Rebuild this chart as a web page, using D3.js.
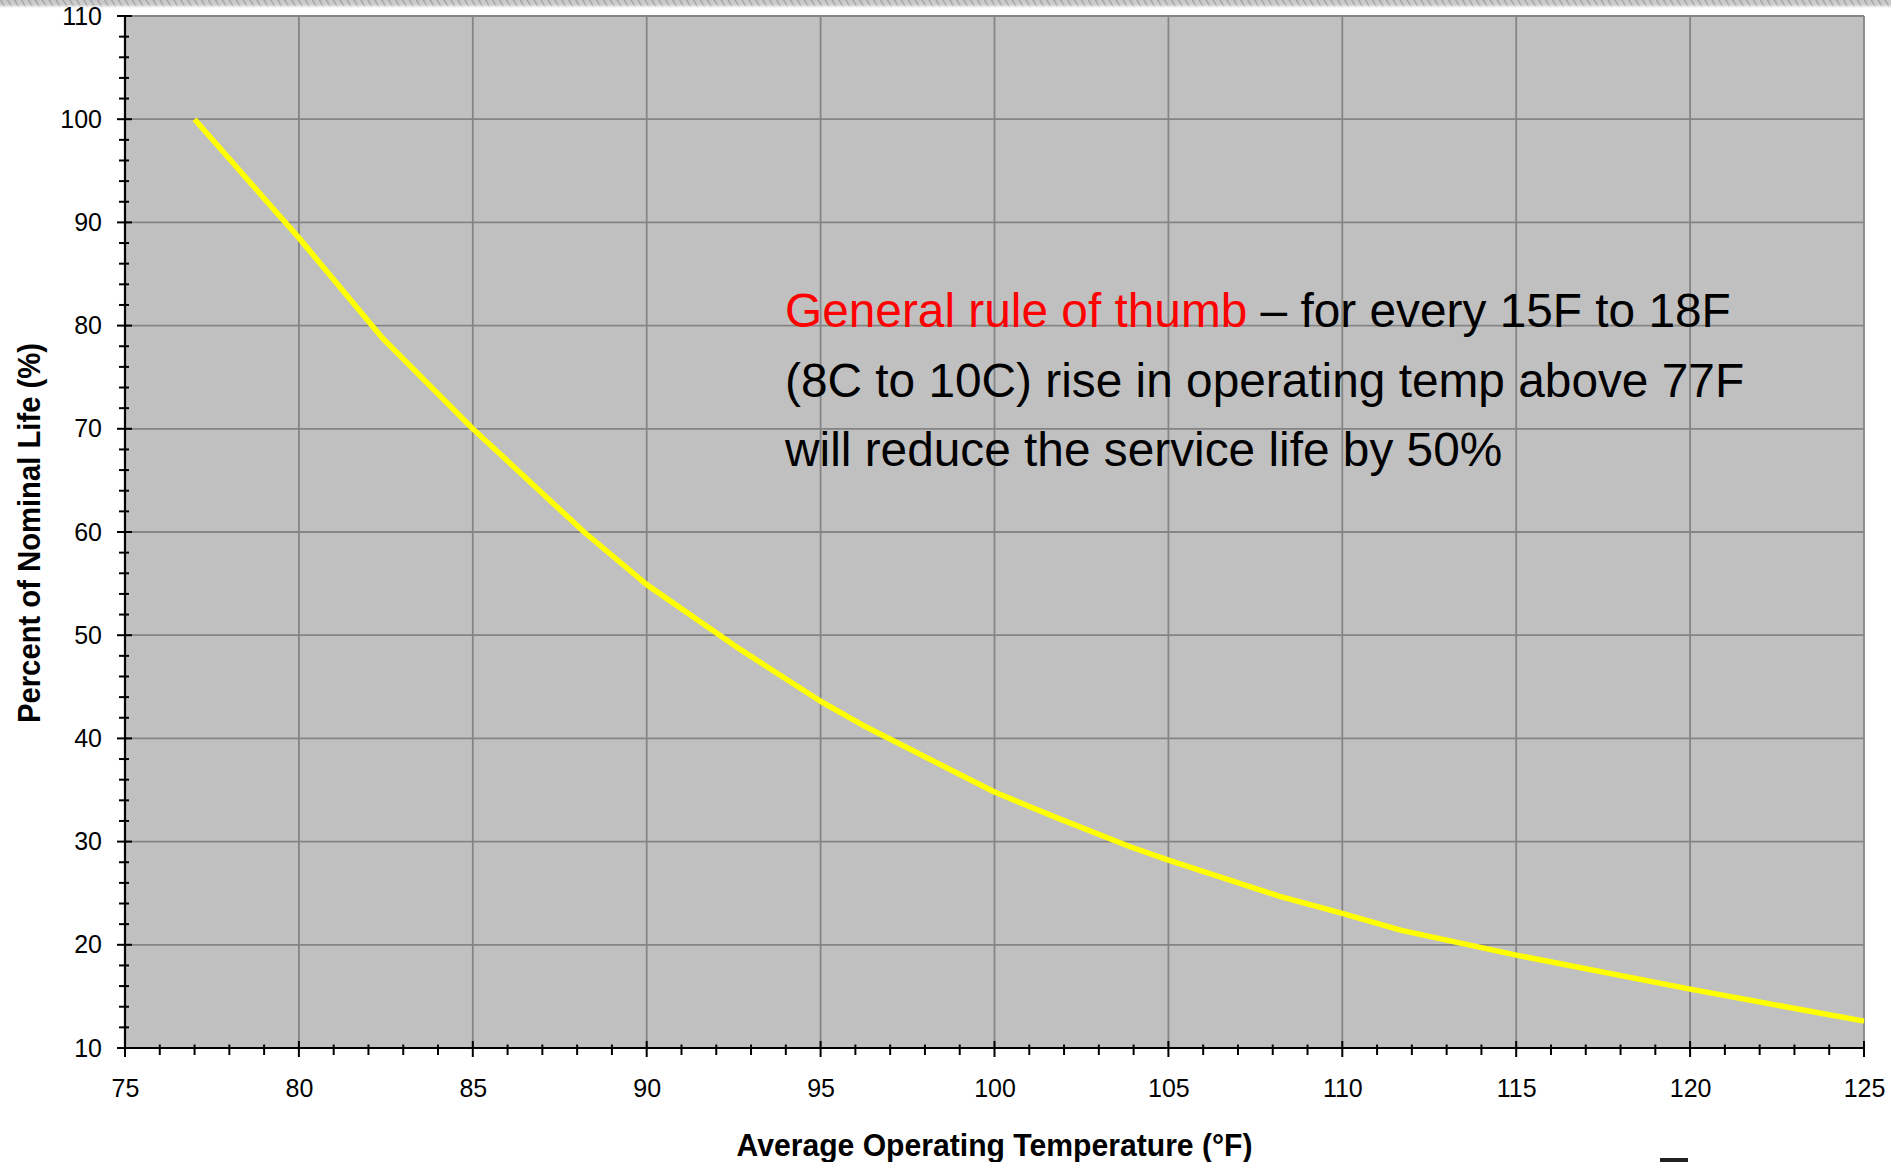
<!DOCTYPE html>
<html>
<head>
<meta charset="utf-8">
<script src="https://cdn.jsdelivr.net/npm/d3@7"></script>
<style>
  html, body { margin: 0; padding: 0; background: #ffffff; }
  svg { display: block; }
  text { font-family: "Liberation Sans", Arial, Helvetica, sans-serif; }
</style>
</head>
<body>
<svg id="chart" width="1891" height="1162"></svg>
<script>
// Average operating temperature (°F) and the matching percent of nominal life
const temperatures = [77, 80, 82.4, 85, 88.2, 90, 92.7, 95, 96.2, 100, 101.8, 103.9, 105, 108.2, 110, 111.7, 115, 120, 125];
const lifePercent  = [100, 88.5, 78.8, 70.0, 60.0, 54.9, 48.6, 43.6, 41.3, 34.8, 32.3, 29.5, 28.2, 24.7, 23.05, 21.4, 19.0, 15.7, 12.6];

// Axis ticks
const xMajorTicks = [75, 80, 85, 90, 95, 100, 105, 110, 115, 120, 125];
const yMajorTicks = [10, 20, 30, 40, 50, 60, 70, 80, 90, 100, 110];
const xMinorTicks = d3.range(75, 126, 1).filter(v => v % 5 !== 0);
const yMinorTicks = d3.range(10, 111, 2).filter(v => v % 10 !== 0);

// Annotation lines
const noteHighlight = "General rule of thumb";
const noteLines = [
  " \u2013 for every 15F to 18F",
  "(8C to 10C) rise in operating temp above 77F",
  "will reduce the service life by 50%"
];

const xTitle = "Average Operating Temperature (\u00B0F)";
const yTitle = "Percent of Nominal Life (%)";

const svg = d3.select("#chart");
const plot = { left: 125, right: 1864, top: 16, bottom: 1048 };

const x = d3.scaleLinear().domain([75, 125]).range([plot.left, plot.right]);
const y = d3.scaleLinear().domain([10, 110]).range([plot.bottom, plot.top]);

// Textured strip across the very top
const defs = svg.append("defs");
const pat = defs.append("pattern")
  .attr("id", "hatch").attr("width", 6).attr("height", 6)
  .attr("patternUnits", "userSpaceOnUse")
  .attr("patternTransform", "rotate(-30)");
pat.append("rect").attr("width", 6).attr("height", 6).attr("fill", "#c8c8c8");
pat.append("line").attr("x1", 0).attr("y1", 0).attr("x2", 0).attr("y2", 6)
  .attr("stroke", "#9a9a9a").attr("stroke-width", 2.5);
const fade = defs.append("linearGradient").attr("id", "fade")
  .attr("x1", 0).attr("y1", 0).attr("x2", 0).attr("y2", 1);
fade.append("stop").attr("offset", "0%").attr("stop-color", "#fff").attr("stop-opacity", 0);
fade.append("stop").attr("offset", "55%").attr("stop-color", "#fff").attr("stop-opacity", 0.1);
fade.append("stop").attr("offset", "100%").attr("stop-color", "#fff").attr("stop-opacity", 1);
svg.append("rect").attr("x", 0).attr("y", 0).attr("width", 1891).attr("height", 8).attr("fill", "url(#hatch)");
svg.append("rect").attr("x", 0).attr("y", 0).attr("width", 1891).attr("height", 8).attr("fill", "url(#fade)");

// Plot area
svg.append("rect")
  .attr("x", x(75)).attr("y", y(110))
  .attr("width", x(125) - x(75)).attr("height", y(10) - y(110))
  .attr("fill", "#c0c0c0");

// Gridlines
const grid = svg.append("g").attr("stroke", "#858585").attr("stroke-width", 1.8);
grid.selectAll(".gx").data(xMajorTicks.filter(v => v > 75)).join("line")
  .attr("x1", d => x(d)).attr("x2", d => x(d))
  .attr("y1", y(110)).attr("y2", y(10));
grid.selectAll(".gy").data(yMajorTicks.filter(v => v > 10)).join("line")
  .attr("x1", x(75)).attr("x2", x(125))
  .attr("y1", d => y(d)).attr("y2", d => y(d));

// Life curve
const line = d3.line().x(d => x(d[0])).y(d => y(d[1]));
svg.append("path")
  .datum(temperatures.map((t, i) => [t, lifePercent[i]]))
  .attr("d", line)
  .attr("fill", "none")
  .attr("stroke", "#ffff00")
  .attr("stroke-width", 5.5)
  .attr("stroke-linejoin", "round");

// Axes: labels from d3 axes, crossing tick marks drawn from the same scales
const xAxis = svg.append("g").attr("transform", `translate(0,${plot.bottom})`)
  .call(d3.axisBottom(x).tickValues(xMajorTicks).tickSize(0).tickPadding(31).tickFormat(d3.format("d")));
xAxis.select(".domain").remove();
xAxis.selectAll("text").attr("font-size", 25).attr("fill", "#000")
  .attr("font-family", "'Liberation Sans', Arial, sans-serif");

const yAxis = svg.append("g").attr("transform", `translate(${plot.left},0)`)
  .call(d3.axisLeft(y).tickValues(yMajorTicks).tickSize(0).tickPadding(23).tickFormat(d3.format("d")));
yAxis.select(".domain").remove();
yAxis.selectAll("text").attr("font-size", 25).attr("fill", "#000")
  .attr("font-family", "'Liberation Sans', Arial, sans-serif");

const ticks = svg.append("g").attr("stroke", "#000").attr("stroke-width", 2);
ticks.selectAll(".xM").data(xMajorTicks).join("line")
  .attr("x1", d => x(d)).attr("x2", d => x(d))
  .attr("y1", plot.bottom - 7).attr("y2", plot.bottom + 9);
ticks.selectAll(".xm").data(xMinorTicks).join("line")
  .attr("x1", d => x(d)).attr("x2", d => x(d))
  .attr("y1", plot.bottom - 3.5).attr("y2", plot.bottom + 7);
ticks.selectAll(".yM").data(yMajorTicks).join("line")
  .attr("x1", plot.left - 8).attr("x2", plot.left + 7)
  .attr("y1", d => y(d)).attr("y2", d => y(d));
ticks.selectAll(".ym").data(yMinorTicks).join("line")
  .attr("x1", plot.left - 6).attr("x2", plot.left + 4)
  .attr("y1", d => y(d)).attr("y2", d => y(d));

// Axis lines
svg.append("line").attr("x1", x(75)).attr("x2", x(125)).attr("y1", y(10)).attr("y2", y(10))
  .attr("stroke", "#000").attr("stroke-width", 2.2);
svg.append("line").attr("x1", x(75)).attr("x2", x(75)).attr("y1", y(110)).attr("y2", y(10))
  .attr("stroke", "#000").attr("stroke-width", 2.2);

// Axis titles
svg.append("text")
  .attr("x", (plot.left + plot.right) / 2).attr("y", 1156)
  .attr("text-anchor", "middle").attr("font-weight", "bold").attr("font-size", 31)
  .attr("textLength", 516).attr("lengthAdjust", "spacingAndGlyphs")
  .text(xTitle);
svg.append("text")
  .attr("transform", `translate(40,${533}) rotate(-90)`)
  .attr("text-anchor", "middle").attr("font-weight", "bold").attr("font-size", 31)
  .attr("textLength", 380).attr("lengthAdjust", "spacingAndGlyphs")
  .text(yTitle);

// Rule-of-thumb note
const note = svg.append("g").attr("font-size", 47.8).attr("fill", "#000");
const first = note.append("text").attr("x", 785).attr("y", 327);
first.append("tspan").attr("fill", "#ff0000").text(noteHighlight);
first.append("tspan").text(noteLines[0]);
note.append("text").attr("x", 785).attr("y", 397).text(noteLines[1]);
note.append("text").attr("x", 785).attr("y", 466).text(noteLines[2]);

// Small dark mark at the bottom edge
svg.append("rect").attr("x", 1660).attr("y", 1158).attr("width", 28).attr("height", 4).attr("fill", "#222");
</script>
</body>
</html>
